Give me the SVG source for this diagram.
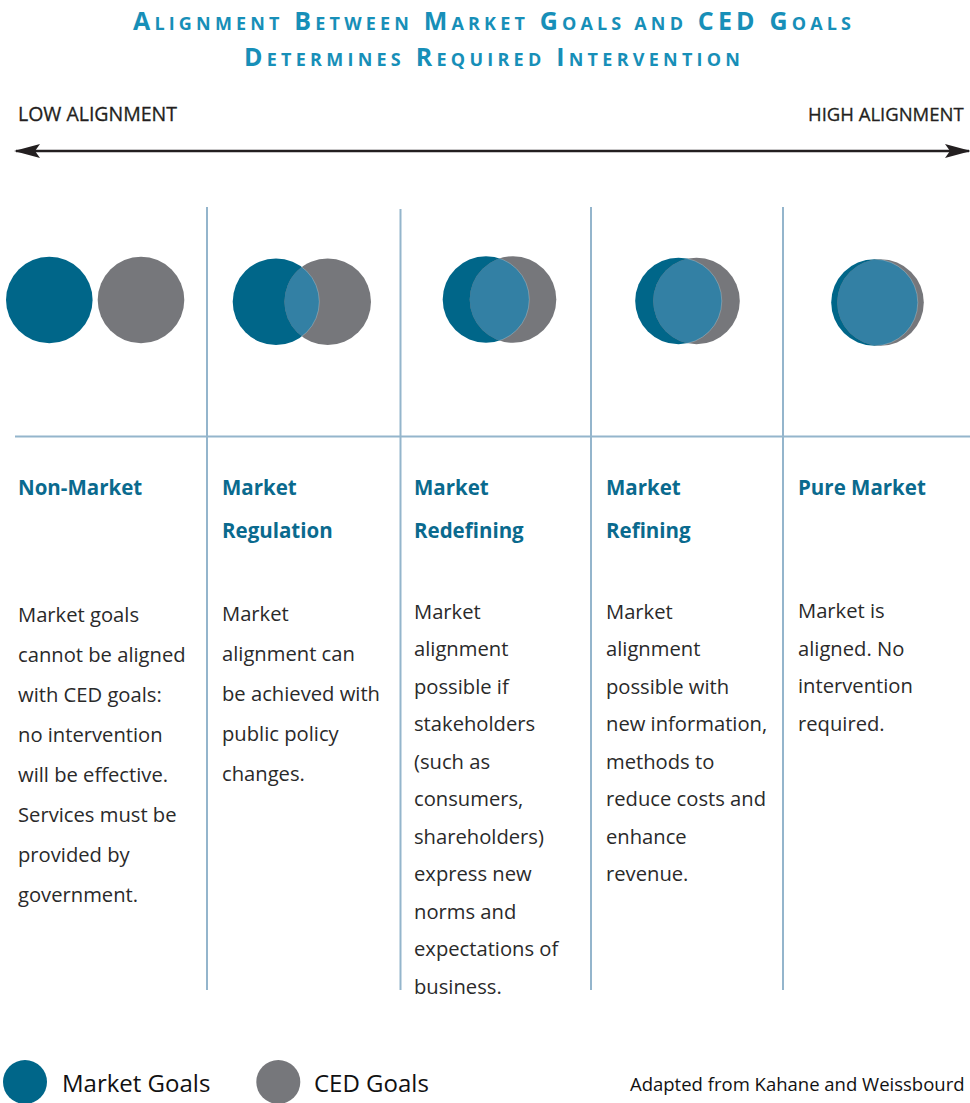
<svg xmlns="http://www.w3.org/2000/svg" width="970" height="1103" viewBox="0 0 970 1103">
<style>
.title{font-family:"Open Sans","Liberation Sans",sans-serif;font-weight:bold;fill:#178fb8;font-size:25px}
.sc{font-size:18px}
.axis{font-family:"Open Sans","Liberation Sans",sans-serif;font-size:19.5px;fill:#231f20;stroke:#231f20;stroke-width:0.3}
.head{font-family:"Open Sans","Liberation Sans",sans-serif;font-weight:bold;font-size:20.5px;fill:#0a6a8e}
.body{font-family:"Open Sans","Liberation Sans",sans-serif;font-size:20.2px;fill:#2a2a2a}
.legend{font-family:"Open Sans","Liberation Sans",sans-serif;font-size:24px;fill:#111}
.credit{font-family:"Open Sans","Liberation Sans",sans-serif;font-size:18.5px;fill:#111}
.teal{fill:#006689}
.gray{fill:#76777b}
.lens{fill:#3380a4;stroke:#ffffff;stroke-opacity:0.4;stroke-width:0.6}
.grid{stroke:#94b5cc;stroke-width:2;fill:none}
</style>
<defs>
<marker id="ah" viewBox="0 0 26 14" refX="24" refY="7" markerWidth="26" markerHeight="14" markerUnits="userSpaceOnUse" orient="auto-start-reverse">
<path d="M0,0 L26,7 L0,14 L5,7 Z" fill="#231f20"/>
</marker>
<clipPath id="c2"><circle cx="327.7" cy="301.7" r="43.3"/></clipPath>
<clipPath id="c3"><circle cx="513" cy="299.5" r="43.3"/></clipPath>
<clipPath id="c4"><circle cx="696.5" cy="301" r="43.3"/></clipPath>
<clipPath id="c5"><circle cx="880.5" cy="302.5" r="43.3"/></clipPath>
</defs>

<g id="title">
<text class="title" x="492" y="29.5" text-anchor="middle" textLength="718" lengthAdjust="spacing">A<tspan class="sc">LIGNMENT</tspan> B<tspan class="sc">ETWEEN</tspan> M<tspan class="sc">ARKET</tspan> G<tspan class="sc">OALS AND</tspan> CED G<tspan class="sc">OALS</tspan></text>
<text class="title" x="492" y="66" text-anchor="middle" textLength="496" lengthAdjust="spacing">D<tspan class="sc">ETERMINES</tspan> R<tspan class="sc">EQUIRED</tspan> I<tspan class="sc">NTERVENTION</tspan></text>
</g>

<g id="axis-labels">
<text class="axis" x="18" y="121">LOW ALIGNMENT</text>
<text class="axis" x="808" y="121" style="font-size:18.5px">HIGH ALIGNMENT</text>
</g>

<g id="connectors">
<line x1="16" y1="151" x2="969" y2="151" stroke="#231f20" stroke-width="2.5" marker-start="url(#ah)" marker-end="url(#ah)"/>
<line class="grid" x1="15" y1="436.5" x2="970" y2="436.5"/>
<line class="grid" x1="207" y1="207" x2="207" y2="990"/>
<line class="grid" x1="400.5" y1="209" x2="400.5" y2="990"/>
<line class="grid" x1="591" y1="207" x2="591" y2="990"/>
<line class="grid" x1="783" y1="207" x2="783" y2="990"/>
</g>

<g id="non-market">
<circle class="teal" cx="49.3" cy="300" r="43.3"/>
<circle class="gray" cx="141" cy="300" r="43.3"/>
<text class="head" x="18" y="495">Non-Market</text>
<text class="body" x="18" y="621.5">Market goals</text>
<text class="body" x="18" y="661.5">cannot be aligned</text>
<text class="body" x="18" y="701.5">with CED goals:</text>
<text class="body" x="18" y="741.5">no intervention</text>
<text class="body" x="18" y="781.5">will be effective.</text>
<text class="body" x="18" y="821.5">Services must be</text>
<text class="body" x="18" y="861.5">provided by</text>
<text class="body" x="18" y="901.5">government.</text>
</g>

<g id="market-regulation">
<circle class="teal" cx="276" cy="301.7" r="43.3"/>
<circle class="gray" cx="327.7" cy="301.7" r="43.3"/>
<circle class="lens" cx="276" cy="301.7" r="43.3" clip-path="url(#c2)"/>
<text class="head" x="222" y="495">Market</text>
<text class="head" x="222" y="537.5">Regulation</text>
<text class="body" x="222" y="620.5">Market</text>
<text class="body" x="222" y="661">alignment can</text>
<text class="body" x="222" y="701">be achieved with</text>
<text class="body" x="222" y="741">public policy</text>
<text class="body" x="222" y="781">changes.</text>
</g>

<g id="market-redefining">
<circle class="teal" cx="486" cy="299.5" r="43.3"/>
<circle class="gray" cx="513" cy="299.5" r="43.3"/>
<circle class="lens" cx="486" cy="299.5" r="43.3" clip-path="url(#c3)"/>
<text class="head" x="414" y="495">Market</text>
<text class="head" x="414" y="537.5">Redefining</text>
<text class="body" x="414" y="618.5">Market</text>
<text class="body" x="414" y="656">alignment</text>
<text class="body" x="414" y="693.5">possible if</text>
<text class="body" x="414" y="731">stakeholders</text>
<text class="body" x="414" y="768.5">(such as</text>
<text class="body" x="414" y="806">consumers,</text>
<text class="body" x="414" y="843.5">shareholders)</text>
<text class="body" x="414" y="881">express new</text>
<text class="body" x="414" y="918.5">norms and</text>
<text class="body" x="414" y="956">expectations of</text>
<text class="body" x="414" y="993.5">business.</text>
</g>

<g id="market-refining">
<circle class="teal" cx="678.5" cy="301" r="43.3"/>
<circle class="gray" cx="696.5" cy="301" r="43.3"/>
<circle class="lens" cx="678.5" cy="301" r="43.3" clip-path="url(#c4)"/>
<text class="head" x="606" y="495">Market</text>
<text class="head" x="606" y="537.5">Refining</text>
<text class="body" x="606" y="618.5">Market</text>
<text class="body" x="606" y="656">alignment</text>
<text class="body" x="606" y="693.5">possible with</text>
<text class="body" x="606" y="731">new information,</text>
<text class="body" x="606" y="768.5">methods to</text>
<text class="body" x="606" y="806">reduce costs and</text>
<text class="body" x="606" y="843.5">enhance</text>
<text class="body" x="606" y="881">revenue.</text>
</g>

<g id="pure-market">
<circle class="teal" cx="874.5" cy="302.5" r="43.3"/>
<circle class="gray" cx="880.5" cy="302.5" r="43.3"/>
<circle class="lens" cx="874.5" cy="302.5" r="43.3" clip-path="url(#c5)"/>
<text class="head" x="798" y="495">Pure Market</text>
<text class="body" x="798" y="618">Market is</text>
<text class="body" x="798" y="655.5">aligned. No</text>
<text class="body" x="798" y="693">intervention</text>
<text class="body" x="798" y="730.5">required.</text>
</g>

<g id="legend">
<circle class="teal" cx="25" cy="1082" r="22"/>
<text class="legend" x="62" y="1092">Market Goals</text>
<circle class="gray" cx="278.3" cy="1082" r="22"/>
<text class="legend" x="314" y="1092">CED Goals</text>
<text class="credit" x="630" y="1091">Adapted from Kahane and Weissbourd</text>
</g>
</svg>
